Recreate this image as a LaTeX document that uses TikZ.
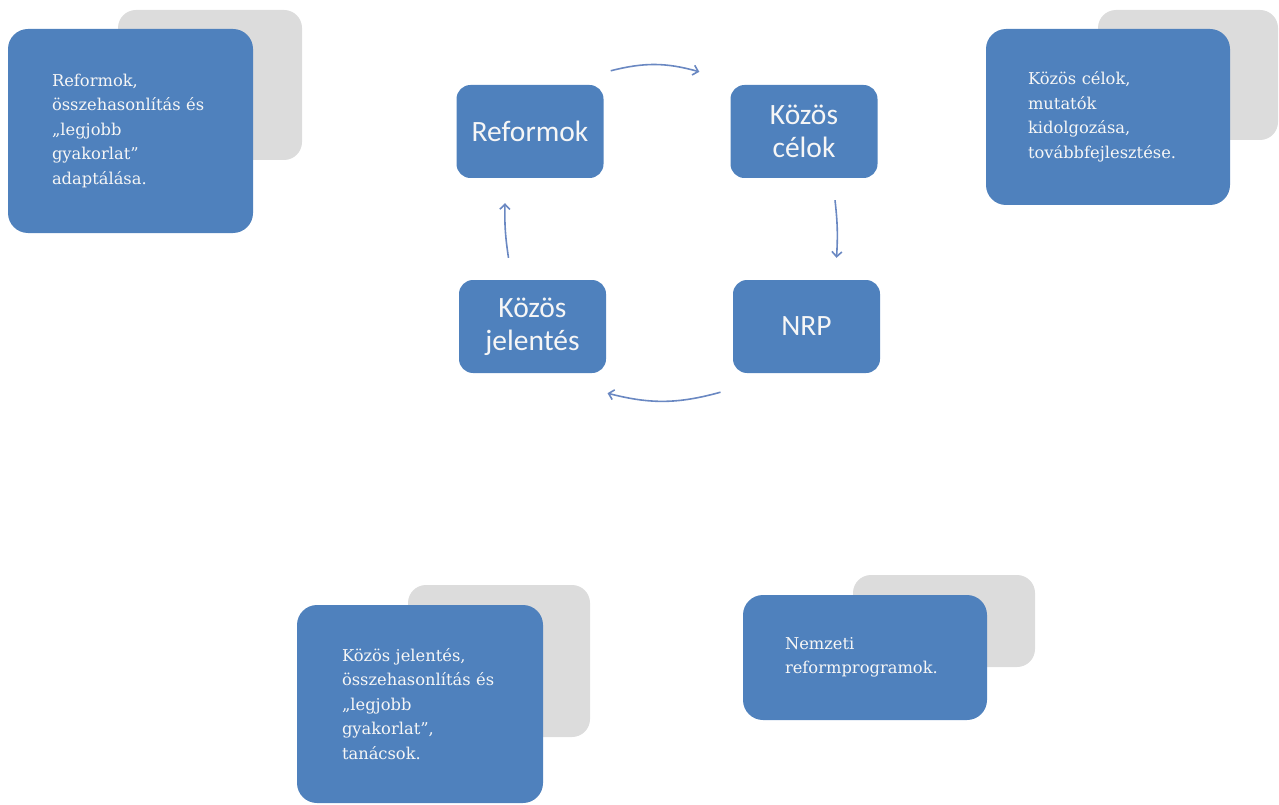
\documentclass[tikz,border=0pt]{standalone}
\usepackage{fontspec}
\setmainfont{DejaVu Serif}
\newfontfamily\cyclefont{Carlito}
\usetikzlibrary{arrows.meta}
\definecolor{boxblue}{HTML}{4F81BD}
\definecolor{backgrey}{HTML}{DCDCDC}
\definecolor{arrowblue}{HTML}{6A88C2}
\definecolor{textwhite}{HTML}{F6F6F6}
\begin{document}
\begin{tikzpicture}[x=1pt,y=-1pt,
  backbox/.style={fill=backgrey,rounded corners=18pt,inner sep=0pt},
  infobox/.style={fill=boxblue,rounded corners=20pt,text=textwhite,inner xsep=0pt,
    align=left,font=\fontsize{16.3}{24.5}\selectfont,minimum width=245pt},
  stepbox/.style={fill=boxblue,rounded corners=14pt,text=textwhite,align=center,
    minimum width=147pt,minimum height=93pt,font=\cyclefont\fontsize{29.5}{33}\selectfont},
  cycarrow/.style={draw=arrowblue,line width=1.6pt,-{Straight Barb[length=5pt,width=10pt]}}]
  \useasboundingbox (0,0) rectangle (1279,805);

  \node[backbox,minimum width=184pt,minimum height=150pt] (reformback) at (210,85) {};
  \node[backbox,minimum width=180pt,minimum height=130pt] (celback) at (1188,75) {};
  \node[backbox,minimum width=182pt,minimum height=152pt] (jelback) at (499,661) {};
  \node[backbox,minimum width=182pt,minimum height=92pt] (nrpback) at (944,621) {};

  \node[infobox,minimum height=204pt,text width=157pt] (reformtxt) at (130.5,131)
    {Reformok,\\összehasonlítás és\\„legjobb\\gyakorlat”\\adaptálása.};
  \node[infobox,minimum width=244pt,minimum height=176pt,text width=160pt] (celtxt) at (1108,117)
    {Közös célok,\\mutatók\\kidolgozása,\\továbbfejlesztése.};
  \node[infobox,minimum width=246pt,minimum height=198pt,text width=156pt] (jeltxt) at (420,704)
    {Közös jelentés,\\összehasonlítás és\\„legjobb\\gyakorlat”,\\tanácsok.};
  \node[infobox,minimum width=244pt,minimum height=125pt,text width=160pt] (nrptxt) at (865,657.5)
    {Nemzeti\\reformprogramok.};

  \node[stepbox] (reformok) at (530,131.5) {Reformok};
  \node[stepbox] (celok) at (804,131.5) {Közös\\célok};
  \node[stepbox] (nrp) at (806.5,326.5) {NRP};
  \node[stepbox] (jelentes) at (532.5,326.5) {Közös\\jelentés};

  \draw[cycarrow] ([xshift=7pt,yshift=14pt]reformok.north east) to[bend left=15]
    ([xshift=-31pt,yshift=13pt]celok.north west);
  \draw[cycarrow] ([xshift=31pt,yshift=-22pt]celok.south) to[bend left=5]
    ([xshift=30pt,yshift=22pt]nrp.north);
  \draw[cycarrow] ([xshift=-86pt,yshift=-19pt]nrp.south) to[bend left=15]
    ([xshift=75pt,yshift=-20pt]jelentes.south);
  \draw[cycarrow] ([xshift=-24pt,yshift=22pt]jelentes.north) to[bend left=5]
    ([xshift=-25pt,yshift=-25pt]reformok.south);
\end{tikzpicture}
\end{document}
